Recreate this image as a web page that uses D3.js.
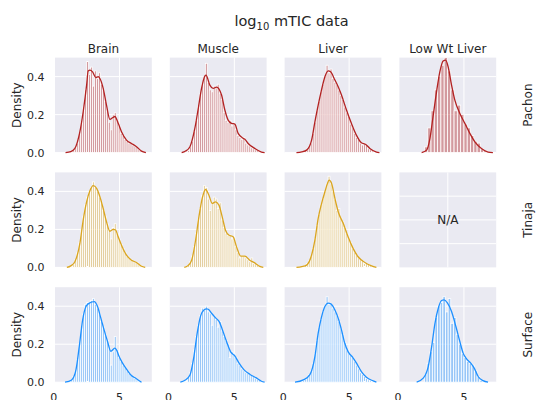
<!DOCTYPE html>
<html>
<head>
<meta charset="utf-8">
<script src="https://cdn.jsdelivr.net/npm/d3@7"></script>
<style>
  html, body { margin: 0; padding: 0; background: #fff; }
  svg { display: block; font-family: "DejaVu Sans", sans-serif; }
</style>
</head>
<body>
<svg id="chart" width="537" height="400"></svg>
<script>
// ---------------- data ----------------
const tissues = ["Brain", "Muscle", "Liver", "Low Wt Liver"];
const populations = ["Pachon", "Tinaja", "Surface"];
const xTicks = [0, 5];
const yTicks = [0.0, 0.2, 0.4];

// histogram bins: start, width
const binStartMain = 1.0, binWidthMain = 0.15;   // 40 bins
const binStartLWL_P = 2.0, binWidthLWL_P = 0.25;  // Pachon Low Wt Liver
const binStartLWL_S = 2.0, binWidthLWL_S = 0.2;   // Surface Low Wt Liver

// Pachon
const histPachonBrain = [0,0,0.003,0.01,0.025,0.05,0.1,0.16,0.24,0.33,0.48,0.41,0.45,0.35,0.43,0.39,0.42,0.36,0.33,0.27,0.22,0.16,0.12,0.2,0.21,0.17,0.14,0.1,0.09,0.07,0.06,0.05,0.05,0.04,0.035,0.03,0.02,0.01,0.005,0];
const kdePachonBrain = [[0.9,0],[1.3,0.005],[1.61,0.022],[1.99,0.11],[2.24,0.215],[2.5,0.355],[2.62,0.43],[2.75,0.434],[2.95,0.425],[3.2,0.395],[3.38,0.40],[3.51,0.39],[3.76,0.338],[4.01,0.25],[4.27,0.175],[4.5,0.185],[4.65,0.19],[4.9,0.154],[5.15,0.11],[5.53,0.066],[5.91,0.048],[6.29,0.031],[6.67,0.008],[7.0,0]];
const histPachonMuscle = [0,0,0.003,0.01,0.03,0.06,0.11,0.17,0.24,0.31,0.36,0.40,0.47,0.37,0.33,0.32,0.35,0.34,0.36,0.31,0.28,0.21,0.17,0.16,0.17,0.14,0.15,0.12,0.09,0.08,0.07,0.08,0.05,0.04,0.035,0.025,0.02,0.015,0.01,0.005];
const kdePachonMuscle = [[1.0,0],[1.3,0.008],[1.63,0.031],[2.0,0.127],[2.26,0.232],[2.51,0.338],[2.77,0.404],[2.85,0.408],[3.14,0.355],[3.39,0.338],[3.65,0.345],[4.03,0.303],[4.28,0.224],[4.53,0.171],[4.79,0.154],[5.04,0.15],[5.29,0.101],[5.67,0.075],[5.8,0.07],[6.05,0.048],[6.55,0.022],[7.06,0.003],[7.3,0]];
const histPachonLiver = [0,0,0.002,0.005,0.01,0.015,0.03,0.05,0.1,0.16,0.22,0.27,0.32,0.36,0.4,0.46,0.42,0.44,0.39,0.37,0.36,0.33,0.3,0.28,0.24,0.21,0.19,0.15,0.13,0.1,0.08,0.07,0.05,0.04,0.05,0.04,0.02,0.015,0.008,0.003];
const kdePachonLiver = [[1.0,0],[1.4,0.004],[1.77,0.013],[2.15,0.066],[2.4,0.162],[2.65,0.25],[2.9,0.329],[3.16,0.399],[3.41,0.43],[3.59,0.425],[3.92,0.382],[4.17,0.347],[4.42,0.303],[4.8,0.224],[5.17,0.154],[5.55,0.092],[5.93,0.052],[6.26,0.043],[6.57,0.022],[7.08,0.003],[7.3,0]];
const histPachonLWL = [0.03,0.13,0.22,0.33,0.4,0.46,0.5,0.43,0.33,0.22,0.25,0.2,0.15,0.13,0.09,0.06,0.05,0.02,0.01];
const kdePachonLWL = [[1.79,0],[2.17,0.013],[2.42,0.075],[2.67,0.197],[2.92,0.32],[3.17,0.425],[3.42,0.482],[3.61,0.487],[3.8,0.452],[4.06,0.355],[4.31,0.276],[4.69,0.206],[5.07,0.154],[5.45,0.101],[5.83,0.057],[6.33,0.022],[6.83,0.003],[7.2,0]];

// Tinaja
const histTinajaBrain = [0,0.002,0.005,0.015,0.04,0.08,0.13,0.2,0.27,0.33,0.37,0.4,0.42,0.45,0.42,0.4,0.37,0.34,0.3,0.27,0.23,0.2,0.15,0.21,0.23,0.18,0.15,0.12,0.1,0.08,0.06,0.05,0.04,0.03,0.03,0.025,0.015,0.008,0.003,0];
const kdeTinajaBrain = [[1.0,0],[1.3,0.008],[1.61,0.03],[1.99,0.126],[2.24,0.249],[2.5,0.345],[2.75,0.403],[3.0,0.43],[3.26,0.416],[3.51,0.372],[3.76,0.31],[4.01,0.24],[4.27,0.19],[4.52,0.2],[4.7,0.197],[4.9,0.161],[5.15,0.117],[5.53,0.065],[5.91,0.038],[6.29,0.026],[6.67,0.006],[6.95,0]];
const histTinajaMuscle = [0,0,0.002,0.01,0.03,0.06,0.11,0.18,0.25,0.31,0.38,0.43,0.42,0.36,0.3,0.34,0.37,0.36,0.31,0.34,0.25,0.21,0.18,0.17,0.17,0.15,0.16,0.11,0.08,0.05,0.06,0.06,0.05,0.04,0.03,0.05,0.02,0.02,0.01,0.005];
const kdeTinajaMuscle = [[1.2,0],[1.45,0.008],[1.76,0.038],[2.06,0.144],[2.31,0.266],[2.56,0.363],[2.82,0.41],[3.07,0.38],[3.32,0.337],[3.57,0.345],[3.83,0.328],[4.08,0.266],[4.33,0.196],[4.58,0.17],[4.91,0.161],[5.17,0.108],[5.49,0.059],[5.8,0.059],[6.17,0.038],[6.55,0.024],[6.93,0.005],[7.2,0]];
const histTinajaLiver = [0,0,0.002,0.005,0.01,0.02,0.035,0.06,0.1,0.15,0.22,0.28,0.33,0.36,0.4,0.44,0.48,0.44,0.4,0.36,0.3,0.31,0.26,0.24,0.21,0.18,0.15,0.13,0.1,0.08,0.065,0.05,0.04,0.035,0.025,0.02,0.015,0.008,0.004,0];
const kdeTinajaLiver = [[1.0,0],[1.4,0.004],[1.77,0.012],[2.15,0.065],[2.4,0.144],[2.65,0.258],[2.91,0.337],[3.16,0.398],[3.33,0.437],[3.48,0.459],[3.67,0.442],[3.92,0.363],[4.17,0.293],[4.55,0.232],[4.92,0.161],[5.3,0.1],[5.68,0.056],[6.19,0.026],[6.7,0.008],[7.07,0]];

// Surface
const histSurfaceBrain = [0.003,0.005,0.012,0.03,0.06,0.12,0.2,0.28,0.36,0.41,0.42,0.42,0.43,0.44,0.41,0.39,0.36,0.32,0.29,0.25,0.22,0.18,0.09,0.16,0.24,0.17,0.13,0.11,0.09,0.08,0.06,0.045,0.035,0.03,0.02,0.012,0.006,0.003,0,0];
const kdeSurfaceBrain = [[0.86,0],[1.36,0.012],[1.69,0.065],[1.94,0.187],[2.2,0.328],[2.45,0.398],[2.7,0.416],[3.08,0.424],[3.33,0.398],[3.58,0.337],[3.83,0.275],[4.09,0.214],[4.34,0.163],[4.64,0.179],[4.77,0.17],[4.97,0.135],[5.23,0.1],[5.48,0.074],[5.86,0.038],[6.23,0.021],[6.67,0]];
const histSurfaceMuscle = [0.002,0.005,0.012,0.025,0.05,0.1,0.17,0.24,0.3,0.35,0.39,0.38,0.4,0.37,0.36,0.3,0.35,0.33,0.29,0.32,0.27,0.24,0.22,0.2,0.13,0.16,0.15,0.13,0.1,0.09,0.07,0.06,0.05,0.045,0.04,0.035,0.03,0.02,0.015,0.008];
const kdeSurfaceMuscle = [[0.9,0],[1.25,0.01],[1.63,0.038],[1.93,0.135],[2.18,0.258],[2.44,0.349],[2.69,0.38],[2.9,0.386],[3.02,0.384],[3.27,0.363],[3.6,0.337],[3.85,0.319],[4.1,0.275],[4.41,0.214],[4.71,0.161],[5.04,0.138],[5.36,0.1],[5.74,0.065],[6.17,0.042],[6.63,0.024],[7.06,0.005],[7.3,0]];
const histSurfaceLiver = [0,0.002,0.005,0.01,0.015,0.025,0.04,0.06,0.1,0.15,0.22,0.29,0.33,0.37,0.4,0.45,0.41,0.41,0.39,0.37,0.35,0.32,0.28,0.25,0.21,0.17,0.15,0.14,0.13,0.11,0.09,0.07,0.05,0.04,0.03,0.02,0.012,0.008,0.004,0];
const kdeSurfaceLiver = [[0.89,0],[1.52,0.012],[2.02,0.04],[2.4,0.135],[2.65,0.258],[2.91,0.345],[3.16,0.398],[3.41,0.416],[3.61,0.412],[3.92,0.38],[4.17,0.337],[4.42,0.275],[4.67,0.205],[4.92,0.161],[5.26,0.132],[5.56,0.1],[5.93,0.056],[6.31,0.026],[6.82,0.007],[7.07,0]];
const histSurfaceLWL = [0.04,0.1,0.16,0.21,0.34,0.4,0.42,0.45,0.37,0.44,0.31,0.34,0.25,0.2,0.15,0.13,0.11,0.1,0.09,0.06,0.03,0.01];
const kdeSurfaceLWL = [[1.41,0],[1.91,0.021],[2.29,0.082],[2.55,0.187],[2.8,0.31],[3.05,0.389],[3.3,0.43],[3.48,0.433],[3.73,0.419],[4.06,0.372],[4.39,0.293],[4.69,0.214],[4.94,0.153],[5.2,0.123],[5.52,0.1],[5.78,0.074],[6.08,0.03],[6.45,0.008],[6.83,0]];

const panels = [
  {pop:"Pachon", tissue:"Brain", hist:histPachonBrain, start:binStartMain, width:binWidthMain, kde:kdePachonBrain},
  {pop:"Pachon", tissue:"Muscle", hist:histPachonMuscle, start:binStartMain, width:binWidthMain, kde:kdePachonMuscle},
  {pop:"Pachon", tissue:"Liver", hist:histPachonLiver, start:binStartMain, width:binWidthMain, kde:kdePachonLiver},
  {pop:"Pachon", tissue:"Low Wt Liver", hist:histPachonLWL, start:binStartLWL_P, width:binWidthLWL_P, kde:kdePachonLWL},
  {pop:"Tinaja", tissue:"Brain", hist:histTinajaBrain, start:binStartMain, width:binWidthMain, kde:kdeTinajaBrain},
  {pop:"Tinaja", tissue:"Muscle", hist:histTinajaMuscle, start:binStartMain, width:binWidthMain, kde:kdeTinajaMuscle},
  {pop:"Tinaja", tissue:"Liver", hist:histTinajaLiver, start:binStartMain, width:binWidthMain, kde:kdeTinajaLiver},
  {pop:"Tinaja", tissue:"Low Wt Liver", hist:null, na:true},
  {pop:"Surface", tissue:"Brain", hist:histSurfaceBrain, start:binStartMain, width:binWidthMain, kde:kdeSurfaceBrain},
  {pop:"Surface", tissue:"Muscle", hist:histSurfaceMuscle, start:binStartMain, width:binWidthMain, kde:kdeSurfaceMuscle},
  {pop:"Surface", tissue:"Liver", hist:histSurfaceLiver, start:binStartMain, width:binWidthMain, kde:kdeSurfaceLiver},
  {pop:"Surface", tissue:"Low Wt Liver", hist:histSurfaceLWL, start:binStartLWL_S, width:binWidthLWL_S, kde:kdeSurfaceLWL}
];

// ---------------- style / layout ----------------
const colorOf = {Pachon:"#b22222", Tinaja:"#daa520", Surface:"#1e90ff"};
const textColor = "#262626";
const panelW = 96.8, panelH = 95;
const colLeft = d3.scaleLinear().domain([0, 3]).range([55, 399.4]);
const rowTop = d3.scaleLinear().domain([0, 2]).range([57.6, 287.2]);

const x = d3.scaleLinear().domain([0.1, 7.45]).range([0, panelW]);
const y = d3.scaleLinear().domain([0, 0.5]).range([panelH, 0]);

const svg = d3.select("#chart");

// Title
const title = svg.append("text")
  .attr("x", 291.5).attr("y", 26)
  .attr("text-anchor", "middle")
  .attr("fill", textColor)
  .style("font-size", "14.5px");
title.append("tspan").text("log");
title.append("tspan").text("10").attr("dy", 3.5).style("font-size", "10px");
title.append("tspan").text(" mTIC data").attr("dy", -3.5);

panels.forEach(p => {
  const ci = tissues.indexOf(p.tissue), ri = populations.indexOf(p.pop);
  const g = svg.append("g").attr("transform", `translate(${colLeft(ci)},${rowTop(ri)})`);
  g.append("rect").attr("width", panelW).attr("height", panelH).attr("fill", "#eaeaf2");

  if (p.na) {
    const nx = d3.scaleLinear().domain([0, 1]).range([0, panelW]);
    const ny = d3.scaleLinear().domain([0, 1]).range([panelH, 0]);
    [0.5].forEach(t => g.append("line").attr("x1", nx(t)).attr("x2", nx(t)).attr("y1", 0).attr("y2", panelH)
      .attr("stroke", "#fff").attr("stroke-width", 1));
    [0.25, 0.5, 0.75].forEach(t => g.append("line").attr("y1", ny(t)).attr("y2", ny(t)).attr("x1", 0).attr("x2", panelW)
      .attr("stroke", "#fff").attr("stroke-width", 1));
    g.append("text").attr("x", nx(0.5)).attr("y", ny(0.5)).attr("text-anchor", "middle")
      .attr("dominant-baseline", "central").attr("fill", textColor).style("font-size", "12px").text("N/A");
  } else {
    // grid
    xTicks.forEach(t => { if (x(t) >= 0 && x(t) <= panelW)
      g.append("line").attr("x1", x(t)).attr("x2", x(t)).attr("y1", 0).attr("y2", panelH)
        .attr("stroke", "#fff").attr("stroke-width", 1); });
    yTicks.forEach(t => g.append("line").attr("y1", y(t)).attr("y2", y(t)).attr("x1", 0).attr("x2", panelW)
      .attr("stroke", "#fff").attr("stroke-width", 1));
    const c = colorOf[p.pop];
    // histogram
    g.selectAll("rect.bar").data(p.hist).enter().append("rect")
      .attr("class", "bar")
      .attr("x", (d, i) => x(p.start + i * p.width))
      .attr("width", x(p.start + p.width) - x(p.start))
      .attr("y", d => y(d))
      .attr("height", d => y(0) - y(d))
      .attr("fill", c).attr("fill-opacity", 0.4)
      .attr("stroke", "#fff").attr("stroke-width", 0.8);
    // kde
    const line = d3.line().x(d => x(d[0])).y(d => y(d[1])).curve(d3.curveMonotoneX);
    g.append("path").datum(p.kde).attr("d", line).attr("fill", "none")
      .attr("stroke", c).attr("stroke-width", 1.3);
  }

  // axes labels
  if (ci === 0) {
    yTicks.forEach(t => g.append("text").attr("x", -10.5).attr("y", y(t)).attr("dy", "0.36em")
      .attr("text-anchor", "end").attr("fill", textColor).style("font-size", "11px").text(d3.format(".1f")(t)));
    g.append("text").attr("transform", `translate(${-38},${panelH / 2}) rotate(-90)`)
      .attr("text-anchor", "middle").attr("dominant-baseline", "central")
      .attr("fill", textColor).style("font-size", "12px").text("Density");
  }
  if (ri === 2) {
    xTicks.forEach(t => g.append("text").attr("x", x(t)).attr("y", panelH + 18.5)
      .attr("text-anchor", "middle").attr("fill", textColor).style("font-size", "11px").text(t));
  }
  if (ri === 0) {
    g.append("text").attr("x", panelW / 2).attr("y", -5).attr("text-anchor", "middle")
      .attr("fill", textColor).style("font-size", "12px").text(p.tissue);
  }
  if (ci === 3) {
    g.append("text").attr("transform", `translate(${528 - colLeft(3)},${panelH / 2}) rotate(-90)`)
      .attr("text-anchor", "middle").attr("dominant-baseline", "central")
      .attr("fill", textColor).style("font-size", "12px").text(p.pop);
  }
});
</script>
</body>
</html>
